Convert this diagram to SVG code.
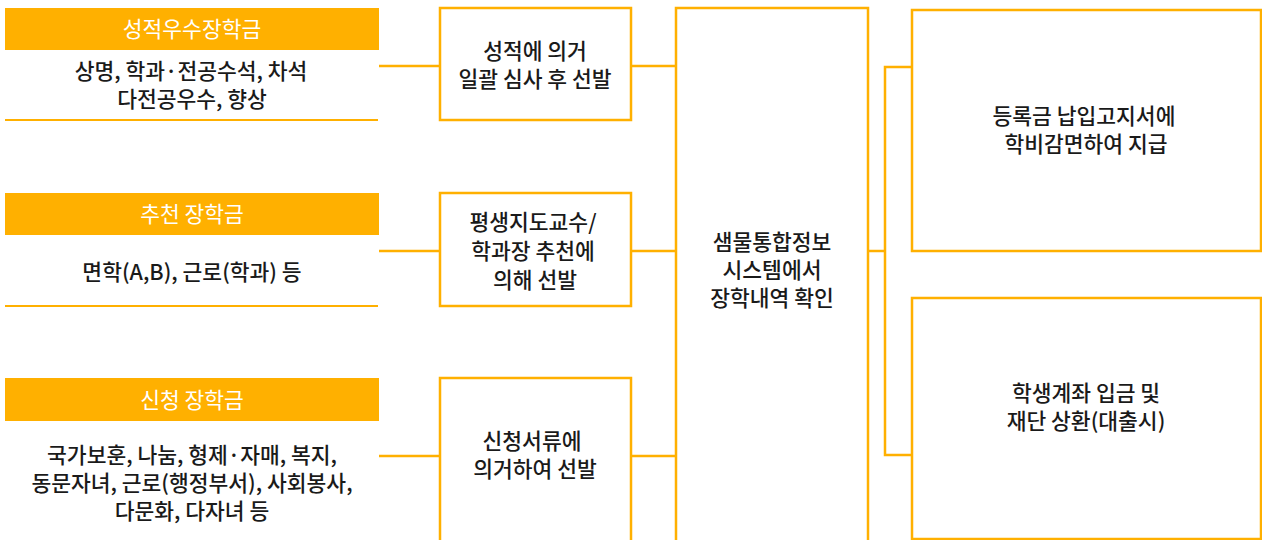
<svg xmlns="http://www.w3.org/2000/svg" width="1262" height="540" viewBox="0 0 1262 540">
<style>
  .bar { fill: #FFB000; }
  .rule { stroke: #FFB000; stroke-width: 2; fill: none; }
  .box { fill: #ffffff; stroke: #FFB000; stroke-width: 2.5; }
  .conn { stroke: #FFB000; stroke-width: 2.5; fill: none; }
  text { font-family: "Noto Sans CJK KR", "Noto Sans", sans-serif; font-size: 21.5px; font-weight: 500; text-anchor: middle; }
  .title { fill: #ffffff; font-weight: 400; }
  .body { fill: #1a1a1a; }
</style>
<rect width="1262" height="540" fill="#ffffff"/>

<g id="connectors">
  <line class="conn" x1="379" y1="66" x2="440" y2="66"/>
  <line class="conn" x1="631" y1="66" x2="676" y2="66"/>
  <line class="conn" x1="379" y1="251" x2="440" y2="251"/>
  <line class="conn" x1="631" y1="251" x2="676" y2="251"/>
  <line class="conn" x1="379" y1="456" x2="440" y2="456"/>
  <line class="conn" x1="631" y1="456" x2="676" y2="456"/>
  <line class="conn" x1="868" y1="251" x2="885" y2="251"/>
  <path class="conn" d="M912,67 H885 V455 H912"/>
</g>

<g id="merit-scholarship">
  <rect class="bar" x="5" y="8" width="374" height="42"/>
  <text class="title" x="192" y="37">성적우수장학금</text>
  <text class="body" x="191" y="79">상명, 학과·전공수석, 차석</text>
  <text class="body" x="192" y="107">다전공우수, 향상</text>
  <line class="rule" x1="5" y1="120" x2="378" y2="120"/>
</g>

<g id="recommend-scholarship">
  <rect class="bar" x="5" y="193" width="374" height="42"/>
  <text class="title" x="192" y="222">추천 장학금</text>
  <text class="body" x="192" y="280">면학(A,B), 근로(학과) 등</text>
  <line class="rule" x1="5" y1="306" x2="378" y2="306"/>
</g>

<g id="apply-scholarship">
  <rect class="bar" x="5" y="378" width="374" height="43"/>
  <text class="title" x="192" y="408">신청 장학금</text>
  <text class="body" x="192" y="463">국가보훈, 나눔, 형제·자매, 복지,</text>
  <text class="body" x="192" y="491">동문자녀, 근로(행정부서), 사회봉사,</text>
  <text class="body" x="192" y="519">다문화, 다자녀 등</text>
</g>

<g id="select-merit">
  <rect class="box" x="440" y="8" width="191" height="112"/>
  <text class="body" x="535" y="59">성적에 의거</text>
  <text class="body" x="535" y="87">일괄 심사 후 선발</text>
</g>

<g id="select-recommend">
  <rect class="box" x="440" y="193" width="191" height="113"/>
  <text class="body" x="533" y="230">평생지도교수/</text>
  <text class="body" x="533" y="259">학과장 추천에</text>
  <text class="body" x="535" y="288">의해 선발</text>
</g>

<g id="select-apply">
  <rect class="box" x="440" y="378" width="191" height="170"/>
  <text class="body" x="532" y="449">신청서류에</text>
  <text class="body" x="535" y="477">의거하여 선발</text>
</g>

<g id="system-check">
  <rect class="box" x="676" y="8" width="192" height="540"/>
  <text class="body" x="772" y="250">샘물통합정보</text>
  <text class="body" x="772" y="278">시스템에서</text>
  <text class="body" x="772" y="306">장학내역 확인</text>
</g>

<g id="tuition-reduction">
  <rect class="box" x="912" y="10" width="349" height="241"/>
  <text class="body" x="1084" y="124">등록금 납입고지서에</text>
  <text class="body" x="1086" y="152">학비감면하여 지급</text>
</g>

<g id="account-deposit">
  <rect class="box" x="912" y="298" width="349" height="241"/>
  <text class="body" x="1086" y="401">학생계좌 입금 및</text>
  <text class="body" x="1086" y="429">재단 상환(대출시)</text>
</g>
</svg>
